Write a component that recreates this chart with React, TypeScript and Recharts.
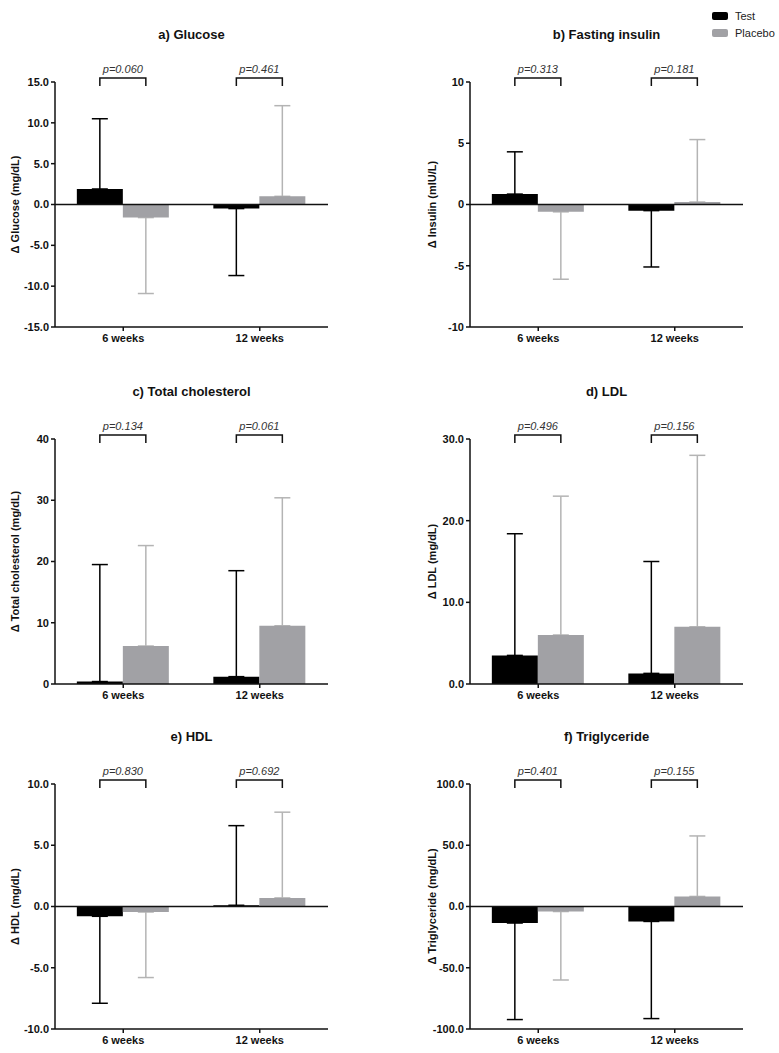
import React from 'react';
import { ComposedChart, Bar, XAxis, YAxis, ErrorBar, ReferenceLine, LabelList, Legend } from 'recharts';

const categories = ['6 weeks', '12 weeks'];
const seriesNames = ['Test', 'Placebo'];

const glucoseTest = [1.9, -0.5];
const glucoseTestSD = [8.6, 8.2];
const glucosePlacebo = [-1.6, 1.0];
const glucosePlaceboSD = [9.3, 11.1];
const glucoseP = ['p=0.060', 'p=0.461'];
const glucoseTicks = [-15, -10, -5, 0, 5, 10, 15];

const insulinTest = [0.85, -0.5];
const insulinTestSD = [3.45, 4.6];
const insulinPlacebo = [-0.6, 0.2];
const insulinPlaceboSD = [5.5, 5.1];
const insulinP = ['p=0.313', 'p=0.181'];
const insulinTicks = [-10, -5, 0, 5, 10];

const cholTest = [0.4, 1.2];
const cholTestSD = [19.1, 17.3];
const cholPlacebo = [6.2, 9.5];
const cholPlaceboSD = [16.4, 20.9];
const cholP = ['p=0.134', 'p=0.061'];
const cholTicks = [0, 10, 20, 30, 40];

const ldlTest = [3.5, 1.3];
const ldlTestSD = [14.9, 13.7];
const ldlPlacebo = [6.0, 7.0];
const ldlPlaceboSD = [17.0, 21.0];
const ldlP = ['p=0.496', 'p=0.156'];
const ldlTicks = [0, 10, 20, 30];

const hdlTest = [-0.8, 0.1];
const hdlTestSD = [7.1, 6.5];
const hdlPlacebo = [-0.45, 0.7];
const hdlPlaceboSD = [5.35, 7.0];
const hdlP = ['p=0.830', 'p=0.692'];
const hdlTicks = [-10, -5, 0, 5, 10];

const tgTest = [-13.5, -12.2];
const tgTestSD = [78.8, 79.3];
const tgPlacebo = [-4.1, 8.2];
const tgPlaceboSD = [55.9, 49.4];
const tgP = ['p=0.401', 'p=0.155'];
const tgTicks = [-100, -50, 0, 50, 100];

const FONT = '"Liberation Sans", Arial, Helvetica, sans-serif';
const TEST_COLOR = '#000000';
const PLACEBO_COLOR = '#a1a1a5';
const PLACEBO_ERR = '#b4b4b4';
const AXIS = '#111111';

const oneSided = (m: number, sd: number) => (m >= 0 ? [0, sd] : [sd, 0]);

function buildRows(test: number[], testSD: number[], placebo: number[], placeboSD: number[], p: string[]) {
  return categories.map((c, i) => ({
    cat: c,
    test: test[i],
    placebo: placebo[i],
    testErr: oneSided(test[i], testSD[i]),
    placeboErr: oneSided(placebo[i], placeboSD[i]),
    p: p[i],
  }));
}

const makeBracket = (plotTop: number) => (props: any) => {
  const vb = props.viewBox || props;
  const x = vb.x ?? props.x;
  const w = vb.width ?? props.width;
  if (x == null || w == null) return null;
  const x1 = x + w / 2;
  const x2 = x + w * 1.5;
  const yl = plotTop - 4;
  const yb = plotTop + 4;
  return (
    <g>
      <path d={`M${x1},${yb} L${x1},${yl} L${x2},${yl} L${x2},${yb}`} fill="none" stroke="#111" strokeWidth={1.5} />
      <text x={(x1 + x2) / 2} y={plotTop - 9} textAnchor="middle" fontFamily={FONT} fontSize={11} fontStyle="italic" fill="#333">
        {props.value}
      </text>
    </g>
  );
};

const LegendContent = (props: any) => {
  const payload = [...(props.payload || [])].sort(
    (a: any, b: any) => seriesNames.indexOf(a.value) - seriesNames.indexOf(b.value)
  );
  return (
    <div style={{ fontFamily: FONT, fontSize: 11, color: '#222' }}>
      {payload.map((e: any) => (
        <div key={e.value} style={{ display: 'flex', alignItems: 'center', height: 17 }}>
          <div style={{ width: 16, height: 8, background: e.color, borderRadius: 2, marginRight: 7 }} />
          <span>{e.value}</span>
        </div>
      ))}
    </div>
  );
};

type PanelProps = {
  title: string;
  yLabel: string;
  rows: any[];
  ticks: number[];
  decimals: number;
  left: number;
  top: number;
  width: number;
  height: number;
  marginTop: number;
  marginLeft: number;
  marginRight: number;
  labelOffset: number;
  xHeight: number;
  legend?: boolean;
};

function Panel(pp: PanelProps) {
  const plotH = 245;
  const yMin = pp.ticks[0];
  const yMax = pp.ticks[pp.ticks.length - 1];
  const plotLeft = pp.marginLeft + 45;
  const plotW = pp.width - plotLeft - pp.marginRight;
  const tickStyle = { fontSize: 11, fontWeight: 'bold', fill: '#111', fontFamily: FONT };
  const errProps: any = { zIndex: 250 };
  return (
    <div style={{ position: 'absolute', left: pp.left, top: pp.top, width: pp.width, height: pp.height }}>
      <div
        style={{
          position: 'absolute',
          left: plotLeft,
          width: plotW,
          top: pp.marginTop - 55,
          textAlign: 'center',
          fontFamily: FONT,
          fontWeight: 'bold',
          fontSize: 13,
          lineHeight: '16px',
          color: '#111',
        }}
      >
        {pp.title}
      </div>
      <ComposedChart
        width={pp.width}
        height={pp.height}
        data={pp.rows}
        margin={{ top: pp.marginTop, right: pp.marginRight, left: pp.marginLeft, bottom: pp.height - pp.marginTop - plotH - pp.xHeight }}
        barCategoryGap="16%"
        barGap={0}
      >
        <XAxis
          dataKey="cat"
          interval={0}
          height={pp.xHeight}
          tickSize={4}
          tickMargin={3}
          tick={tickStyle}
          axisLine={{ stroke: AXIS, strokeWidth: 1.5 }}
          tickLine={{ stroke: AXIS, strokeWidth: 1.5 }}
        />
        <YAxis
          width={45}
          domain={[yMin, yMax]}
          ticks={pp.ticks}
          interval={0}
          tickSize={4}
          tickMargin={2}
          tick={tickStyle}
          tickFormatter={(v: number) => v.toFixed(pp.decimals)}
          axisLine={{ stroke: AXIS, strokeWidth: 1.5 }}
          tickLine={{ stroke: AXIS, strokeWidth: 1.5 }}
          label={{
            value: pp.yLabel,
            angle: -90,
            position: 'insideLeft',
            offset: pp.labelOffset,
            style: { textAnchor: 'middle', fontFamily: FONT, fontWeight: 'bold', fontSize: 11, fill: '#111' },
          }}
        />
        {pp.legend && (
          <Legend
            layout="vertical"
            verticalAlign="middle"
            align="center"
            content={<LegendContent />}
            wrapperStyle={{ position: 'absolute', top: 7.5, left: 322, width: 70, height: 34 }}
          />
        )}
        <Bar dataKey="test" name={seriesNames[0]} fill={TEST_COLOR} isAnimationActive={false}>
          <ErrorBar dataKey="testErr" direction="y" width={8} stroke={TEST_COLOR} strokeWidth={1.5} {...errProps} />
          <LabelList dataKey="p" content={makeBracket(pp.marginTop)} />
        </Bar>
        <Bar dataKey="placebo" name={seriesNames[1]} fill={PLACEBO_COLOR} isAnimationActive={false}>
          <ErrorBar dataKey="placeboErr" direction="y" width={8} stroke={PLACEBO_ERR} strokeWidth={1.5} {...errProps} />
        </Bar>
        {yMin < 0 && <ReferenceLine y={0} stroke={AXIS} strokeWidth={1.5} />}
      </ComposedChart>
    </div>
  );
}

export default function App() {
  const L = { left: 0, width: 390, marginLeft: 10, marginRight: 62, labelOffset: 5 };
  const R = { left: 390, width: 389, marginLeft: 35, marginRight: 36, labelOffset: 7 };
  const row1 = { top: 0, height: 350, marginTop: 82, xHeight: 20 };
  const row2 = { top: 350, height: 350, marginTop: 89, xHeight: 16 };
  const row3 = { top: 700, height: 353, marginTop: 84, xHeight: 20 };
  return (
    <div style={{ position: 'absolute', left: 0, top: 0, width: 779, height: 1053, background: '#fff' }}>
      <Panel {...L} {...row1} title="a) Glucose" yLabel="Δ Glucose (mg/dL)" ticks={glucoseTicks} decimals={1}
        rows={buildRows(glucoseTest, glucoseTestSD, glucosePlacebo, glucosePlaceboSD, glucoseP)} />
      <Panel {...R} {...row1} title="b) Fasting insulin" yLabel="Δ Insulin (mIU/L)" ticks={insulinTicks} decimals={0} legend
        rows={buildRows(insulinTest, insulinTestSD, insulinPlacebo, insulinPlaceboSD, insulinP)} />
      <Panel {...L} {...row2} title="c) Total cholesterol" yLabel="Δ Total cholesterol (mg/dL)" ticks={cholTicks} decimals={0}
        rows={buildRows(cholTest, cholTestSD, cholPlacebo, cholPlaceboSD, cholP)} />
      <Panel {...R} {...row2} title="d) LDL" yLabel="Δ LDL (mg/dL)" ticks={ldlTicks} decimals={1}
        rows={buildRows(ldlTest, ldlTestSD, ldlPlacebo, ldlPlaceboSD, ldlP)} />
      <Panel {...L} {...row3} title="e) HDL" yLabel="Δ HDL (mg/dL)" ticks={hdlTicks} decimals={1}
        rows={buildRows(hdlTest, hdlTestSD, hdlPlacebo, hdlPlaceboSD, hdlP)} />
      <Panel {...R} {...row3} title="f) Triglyceride" yLabel="Δ Triglyceride (mg/dL)" ticks={tgTicks} decimals={1}
        rows={buildRows(tgTest, tgTestSD, tgPlacebo, tgPlaceboSD, tgP)} />
    </div>
  );
}
